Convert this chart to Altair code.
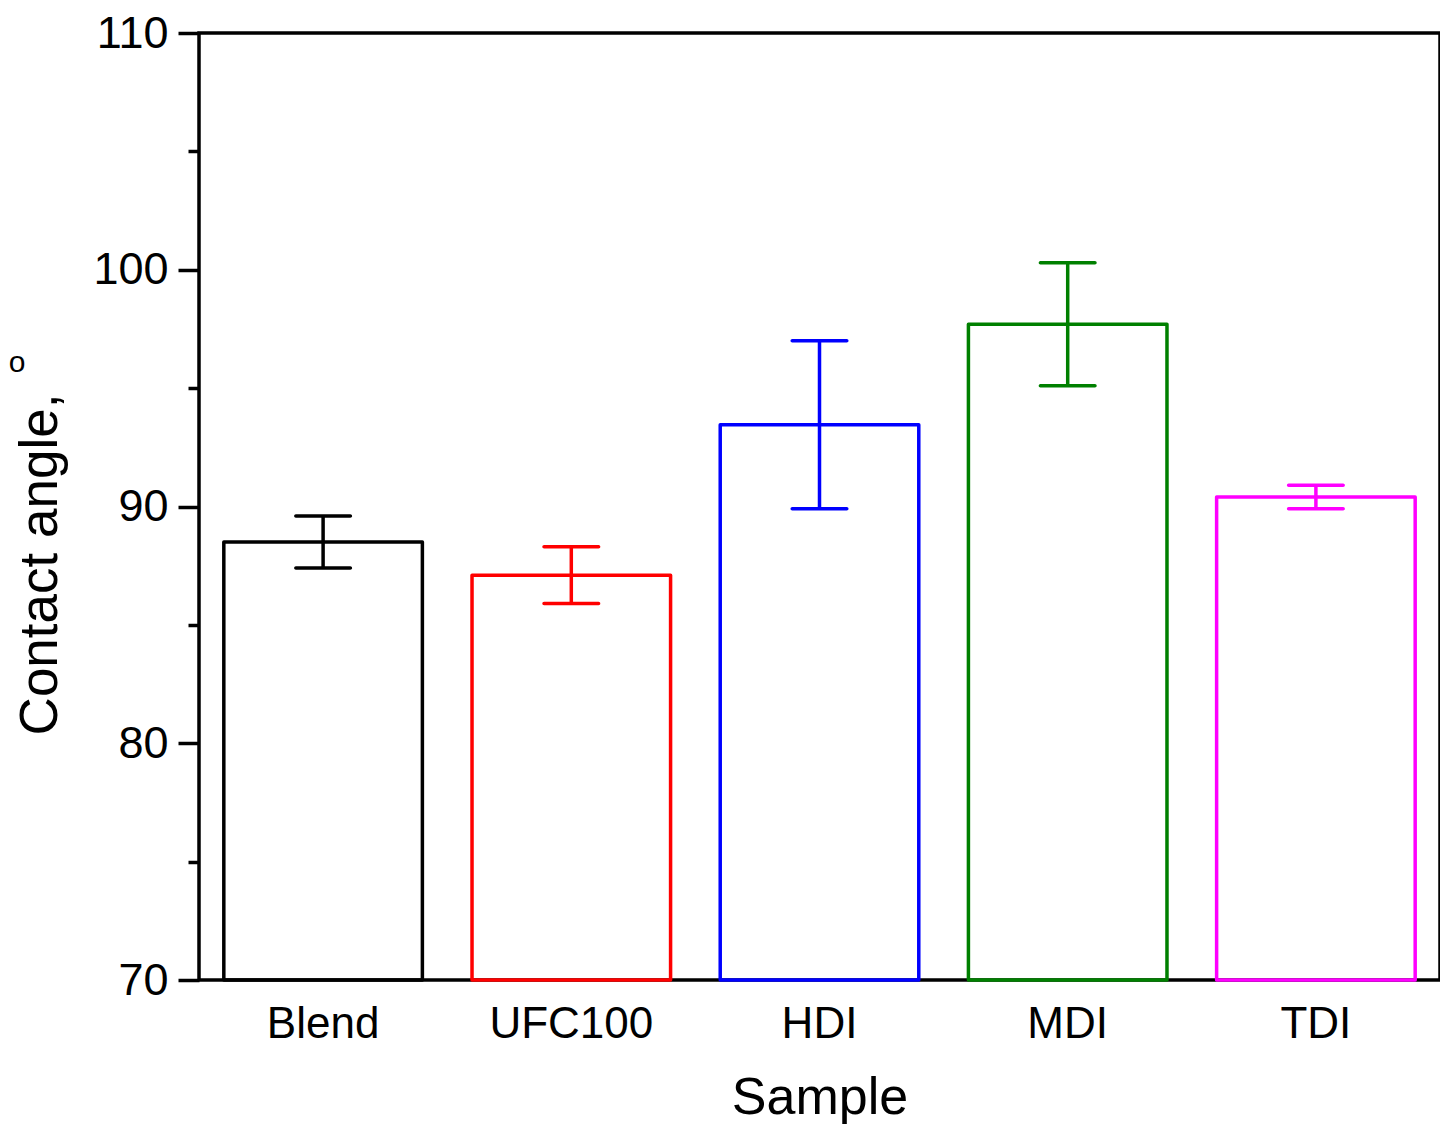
import altair as alt
import pandas as pd

samples = ["Blend", "UFC100", "HDI", "MDI", "TDI"]
means = [88.5, 87.1, 93.45, 97.7, 90.4]
errors = [1.1, 1.2, 3.55, 2.6, 0.5]
colors = ["#000000", "#FF0000", "#0000FF", "#008000", "#FF00FF"]
y_ticks = [70, 75, 80, 85, 90, 95, 100, 105, 110]

df = pd.DataFrame({
    "Sample": samples,
    "mean": means,
    "err": errors,
})
df["lo"] = df["mean"] - df["err"]
df["hi"] = df["mean"] + df["err"]

FONT = "Liberation Sans"

x_enc = alt.X(
    "Sample:N",
    sort=samples,
    scale=alt.Scale(paddingInner=0.2, paddingOuter=0.1),
    axis=alt.Axis(
        title="Sample",
        titleFontSize=52,
        titleFont=FONT,
        titleFontWeight="normal",
        titleColor="black",
        titleY=133,
        titleBaseline="alphabetic",
        labelFontSize=44,
        labelFont=FONT,
        labelColor="black",
        labelPadding=22,
        labelAngle=0,
        ticks=False,
        domain=False,
        grid=False,
    ),
)

y_scale = alt.Scale(domain=[70, 110], zero=False, nice=False)
color_enc = alt.Color("Sample:N", sort=samples,
                      scale=alt.Scale(domain=samples, range=colors), legend=None)

base = alt.Chart(df)

bars = base.mark_bar(fill="white", fillOpacity=0, strokeWidth=3.5, strokeJoin="round").encode(
    x=x_enc,
    y=alt.Y(
        "mean:Q",
        scale=y_scale,
        axis=alt.Axis(
            title="Contact angle,",
            titleFontSize=53,
            titleFont=FONT,
            titleFontWeight="normal",
            titleColor="black",
            titleAngle=270,
            titleX=-143,
            titleY=531,
            titleAlign="center",
            titleBaseline="alphabetic",
            values=y_ticks,
            labelExpr="datum.value % 10 === 0 ? datum.label : ''",
            labelFontSize=45,
            labelFont=FONT,
            labelColor="black",
            labelPadding=10,
            tickSize={"condition": {"test": "datum.value % 10 === 0", "value": 21}, "value": 11},
            tickWidth=3.5,
            tickColor="black",
            domain=False,
            grid=False,
        ),
    ),
    y2=alt.datum(70),
    stroke=color_enc,
)

rules = base.mark_rule(strokeWidth=3.5, opacity=1).encode(
    x=alt.X("Sample:N", sort=samples),
    y=alt.Y("lo:Q", scale=y_scale),
    y2="hi:Q",
    color=color_enc,
)

caps_lo = base.mark_tick(size=58, thickness=3.5, orient="horizontal", cornerRadius=2, opacity=1).encode(
    x=alt.X("Sample:N", sort=samples),
    y=alt.Y("lo:Q", scale=y_scale),
    color=color_enc,
)
caps_hi = base.mark_tick(size=58, thickness=3.5, orient="horizontal", cornerRadius=2, opacity=1).encode(
    x=alt.X("Sample:N", sort=samples),
    y=alt.Y("hi:Q", scale=y_scale),
    color=color_enc,
)

sup = alt.Chart(pd.DataFrame({"t": ["o"]})).mark_text(
    fontSize=30, font=FONT, align="center", baseline="middle", color="black"
).encode(
    text="t:N",
    x=alt.value(-182),
    y=alt.value(330),
)

chart = alt.layer(bars, rules, caps_lo, caps_hi, sup).properties(
    width=1241,
    height=947,
    background="white",
    autosize=alt.AutoSizeParams(type="none"),
    padding={"left": 191, "top": 25, "right": 0, "bottom": 144},
).configure_view(
    stroke="black",
    strokeWidth=3.5,
)

chart.save("out.html", embed_options={"renderer": "svg", "actions": False})
